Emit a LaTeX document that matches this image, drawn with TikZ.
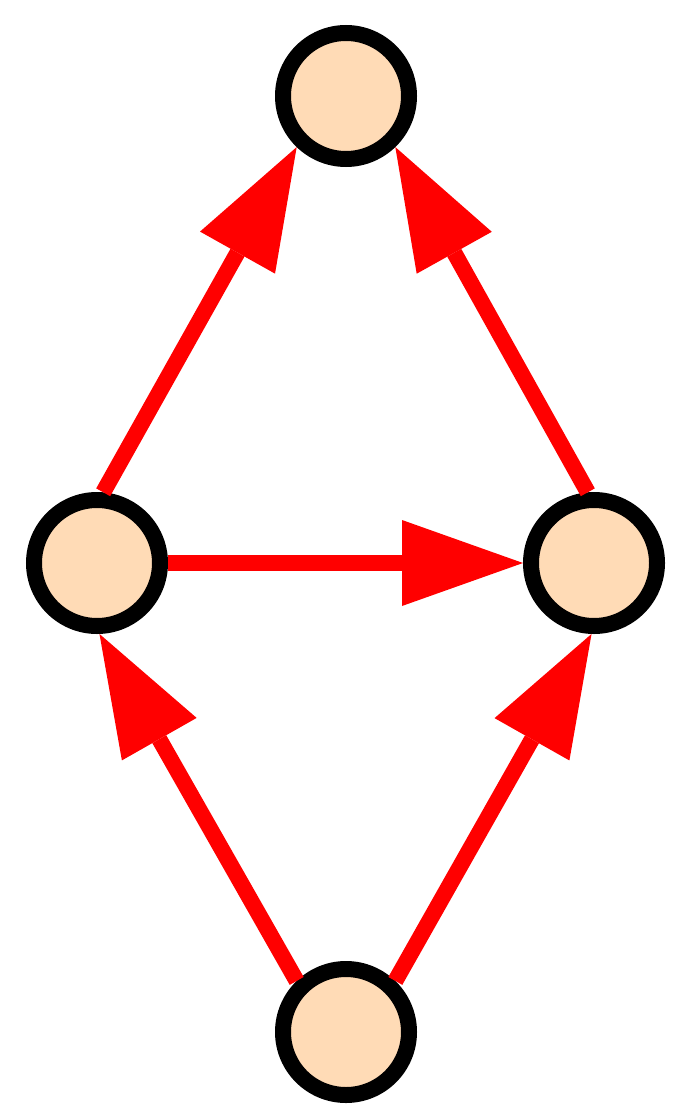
\documentclass[tikz,border=0pt]{standalone}
\usetikzlibrary{arrows.meta}
\definecolor{peach}{RGB}{255,219,182}
\begin{document}
\begin{tikzpicture}[x=1pt,y=-1pt,
  vtx/.style={circle,draw=black,fill=peach,line width=16pt,minimum size=126pt,inner sep=0pt},
  arr/.style={draw=red,line width=16pt,-{Triangle[length=121pt,width=86pt,line width=0pt]}}]
\useasboundingbox (0,0) rectangle (691,1115);
\node[vtx] (t) at (346,96) {};
\node[vtx] (l) at (97,563) {};
\node[vtx] (r) at (594,563) {};
\node[vtx] (b) at (346,1032) {};
\draw[arr] (l.85) -- (t.-134);
\draw[arr] (r.95) -- (t.-46);
\draw[arr] (l.east) -- (r.west);
\draw[arr] (b.134) -- (l.-88);
\draw[arr] (b.46) -- (r.-92);
\end{tikzpicture}
\end{document}
